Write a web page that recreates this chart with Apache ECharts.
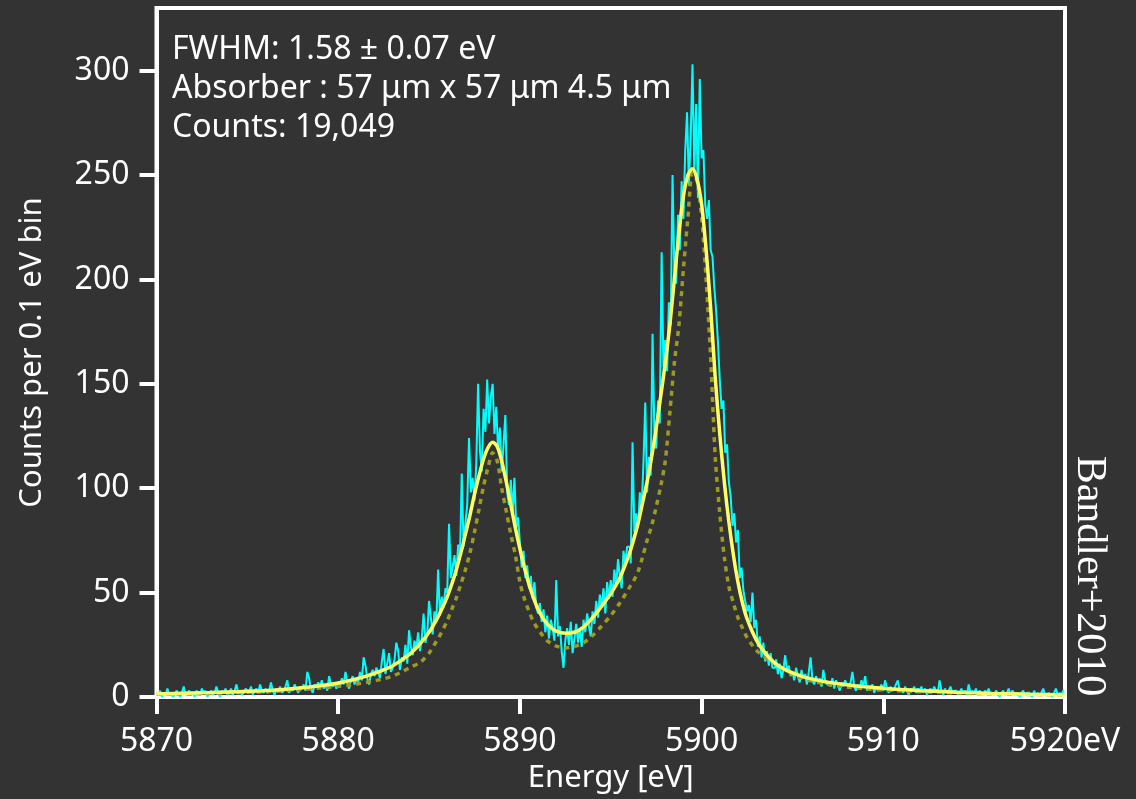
<!DOCTYPE html>
<html>
<head>
<meta charset="utf-8">
<script src="https://cdn.jsdelivr.net/npm/echarts@6/dist/echarts.min.js"></script>
<style>
  html, body { margin: 0; padding: 0; background: #333333; }
  #chart { width: 1136px; height: 799px; }
</style>
</head>
<body>
<div id="chart"></div>
<script>
// Mn K-alpha spectrum: histogram in 0.1 eV bins, starting at 5870 eV
const binStart = 5870;
const binWidth = 0.1;
const counts = [
  2, 1, 3, 0, 2, 1, 4, 1, 2, 0,          // 5870
  1, 3, 2, 0, 2, 5, 1, 2, 3, 1,          // 5871
  2, 0, 3, 2, 1, 4, 2, 3, 0, 2,          // 5872
  3, 1, 2, 5, 2, 0, 3, 2, 4, 1,          // 5873
  2, 4, 1, 3, 6, 2, 3, 1, 2, 4,          // 5874
  3, 2, 5, 1, 3, 4, 2, 6, 3, 2,          // 5875
  4, 2, 3, 7, 3, 1, 4, 3, 5, 2,          // 5876
  3, 5, 8, 2, 4, 3, 6, 4, 2, 5,          // 5877
  4, 6, 3, 12, 9, 4, 2, 6, 5, 7,         // 5878
  5, 8, 4, 6, 3, 10, 6, 5, 7, 4,         // 5879
  7, 5, 9, 6, 12, 7, 4, 8, 10, 6,        // 5880
  9, 7, 12, 8, 19, 15, 9, 6, 11, 13,     // 5881
  10, 14, 12, 9, 17, 23, 11, 16, 21, 12, // 5882
  14, 18, 26, 22, 13, 19, 17, 25, 16, 32,// 5883
  24, 20, 27, 23, 31, 22, 28, 40, 26, 30,// 5884
  46, 38, 30, 41, 36, 61, 39, 48, 43, 52,// 5885
  50, 83, 57, 62, 68, 58, 73, 66, 107, 72,       // 5886
  83, 92, 124, 98, 105, 94, 112, 150, 118, 108,  // 5887
  138, 127, 152, 131, 144, 150, 126, 139, 118, 129, // 5888
  108, 121, 135, 98, 92, 104, 88, 105, 81, 86,   // 5889
  74, 62, 70, 57, 63, 52, 58, 47, 55, 43,        // 5890
  40, 45, 36, 42, 31, 39, 28, 37, 33, 27,        // 5891
  56, 29, 34, 22, 14, 27, 33, 25, 36, 21,        // 5892
  28, 35, 26, 33, 24, 37, 31, 40, 34, 29,        // 5893
  41, 35, 46, 38, 49, 43, 52, 40, 55, 47,        // 5894
  56, 48, 61, 53, 66, 58, 52, 70, 64, 72,        // 5895
  72, 64, 122, 79, 88, 81, 98, 90, 112, 141,     // 5896
  98, 115, 106, 174, 128, 119, 142, 131, 213, 158,   // 5897
  171, 156, 189, 178, 250, 205, 198, 231, 214, 247,  // 5898
  229, 262, 280, 245, 268, 303, 251, 284, 239, 296,  // 5899
  258, 262, 236, 229, 238, 214, 211, 196, 185, 170,  // 5900
  152, 138, 142, 117, 121, 103, 96, 82, 88, 74,      // 5901
  80, 57, 62, 51, 46, 41, 44, 36, 50, 33,        // 5902
  37, 24, 29, 19, 26, 17, 22, 15, 21, 14,        // 5903
  14, 18, 11, 16, 9, 13, 20, 12, 15, 10,         // 5904
  12, 8, 14, 10, 7, 13, 9, 11, 6, 12,            // 5905
  19, 8, 6, 10, 7, 9, 5, 13, 8, 6,               // 5906
  7, 5, 9, 4, 8, 6, 3, 7, 5, 8,                  // 5907
  6, 4, 7, 12, 5, 3, 6, 4, 8, 5,                 // 5908
  10, 3, 5, 4, 6, 2, 5, 3, 4, 6,                 // 5909
  3, 8, 4, 2, 5, 3, 4, 6, 8, 3,                  // 5910
  4, 2, 5, 3, 1, 4, 3, 5, 2, 4,                  // 5911
  3, 5, 2, 4, 1, 3, 4, 2, 5, 3,                  // 5912
  2, 8, 3, 1, 4, 2, 3, 5, 2, 3,                  // 5913
  3, 1, 2, 4, 2, 3, 1, 6, 2, 3,                  // 5914
  2, 4, 1, 3, 2, 1, 3, 2, 4, 1,                  // 5915
  2, 1, 3, 2, 0, 2, 3, 1, 2, 4,                  // 5916
  1, 3, 2, 1, 2, 0, 2, 3, 1, 2,                  // 5917
  2, 1, 0, 3, 1, 2, 1, 2, 4, 1,                  // 5918
  1, 2, 1, 0, 2, 4, 1, 2, 1, 3                   // 5919
];

// Energies at which the model curves are sampled (eV)
const curveEnergy = [
  5870, 5871, 5872, 5873, 5874, 5875, 5876, 5877, 5878, 5879, 5880, 5880.5,
  5881, 5881.5, 5882, 5882.5, 5883, 5883.5, 5884, 5884.5, 5885, 5885.25,
  5885.5, 5885.75, 5886, 5886.25, 5886.5, 5886.75, 5887, 5887.25, 5887.5,
  5887.75, 5888, 5888.25, 5888.5, 5888.75, 5889, 5889.25, 5889.5, 5889.75,
  5890, 5890.25, 5890.5, 5890.75, 5891, 5891.25, 5891.5, 5891.75, 5892,
  5892.5, 5893, 5893.5, 5894, 5894.5, 5895, 5895.5, 5896, 5896.25, 5896.5,
  5896.75, 5897, 5897.25, 5897.5, 5897.75, 5898, 5898.25, 5898.5, 5898.75,
  5899, 5899.25, 5899.5, 5899.75, 5900, 5900.25, 5900.5, 5900.75, 5901,
  5901.25, 5901.5, 5901.75, 5902, 5902.25, 5902.5, 5903, 5903.5, 5904,
  5904.5, 5905, 5905.5, 5906, 5907, 5908, 5909, 5910, 5911, 5912, 5913,
  5914, 5915, 5916, 5917, 5918, 5919, 5920
];

// Best fit (solid yellow)
const fitCounts = [
  1.5, 1.7, 1.9, 2.1, 2.4, 2.7, 3.1, 3.6, 4.4, 5.4, 6.7, 7.6,
  8.7, 9.9, 11.3, 13, 15, 17.8, 21, 25.5, 31, 34.5,
  38.5, 43, 48, 54, 61, 69, 78, 87, 97,
  106, 114, 119.5, 122, 120, 113, 103, 92, 81,
  71, 62, 54, 47.5, 42, 38, 35, 33, 31.5,
  30.5, 31, 33.5, 38, 43.5, 49.5, 57, 68, 75, 83,
  93, 103, 115, 129, 144, 160, 178, 200, 222,
  240, 250, 253, 248, 236, 214, 186, 153, 126,
  103, 84, 68, 55, 45, 37.5, 27.5, 21, 16.5,
  13.5, 11.5, 10, 8.8, 7, 5.9, 4.9, 4.2, 3.6, 3.1, 2.7,
  2.3, 2.0, 1.7, 1.5, 1.3, 1.2, 1.0
];

// Intrinsic line shape (dotted olive)
const lineShapeCounts = [
  1.3, 1.4, 1.5, 1.7, 1.9, 2.2, 2.5, 3.0, 3.6, 4.3, 5.1, 5.6,
  6.2, 6.9, 7.8, 8.7, 10, 12, 14.3, 16.5, 21, 24.5,
  28, 32, 36.5, 42, 47.5, 54, 61, 69, 79,
  90, 101, 110, 117, 113, 100, 89, 78, 68,
  55, 47, 41, 36, 32.5, 29.5, 27, 25.5, 24.4,
  23.5, 24.2, 26, 29.5, 34, 39, 45, 52, 55.5, 60,
  67, 75, 82, 91, 101, 113, 136, 160, 178,
  205, 230, 251, 247, 230, 200, 162, 115, 88,
  67, 53, 45, 38, 33, 28.5, 22.5, 19, 16,
  13.4, 11, 9, 7.8, 6, 4.8, 3.9, 3.3, 2.9, 2.5, 2.2,
  1.9, 1.7, 1.5, 1.35, 1.2, 1.1, 1.0
];

const xTicks = [5870, 5880, 5890, 5900, 5910, 5920];
const yTicks = [0, 50, 100, 150, 200, 250, 300];
const notes = [
  'FWHM: 1.58 \u00b1 0.07 eV',
  'Absorber : 57 \u03bcm x 57 \u03bcm 4.5 \u03bcm',
  'Counts: 19,049'
];
const credit = 'Bandler+2010';

const sansFont = '"Noto Sans", "Open Sans", sans-serif';
const white = '#ffffff';

const histData = counts.map((c, i) => [binStart + (i + 0.5) * binWidth, c]);
const fitData = curveEnergy.map((e, i) => [e, fitCounts[i]]);
const shapeData = curveEnergy.map((e, i) => [e, lineShapeCounts[i]]);

const chart = echarts.init(document.getElementById('chart'), null, { renderer: 'canvas' });

chart.setOption({
  backgroundColor: '#333333',
  animation: false,
  grid: {
    left: 156.5, right: 71, top: 8, bottom: 102,
    show: true, borderColor: white, borderWidth: 4, backgroundColor: 'transparent'
  },
  xAxis: {
    type: 'value',
    min: 5870, max: 5920, interval: 10,
    name: 'Energy [eV]',
    nameLocation: 'middle',
    nameGap: 61,
    nameTextStyle: { color: white, fontSize: 31, fontFamily: sansFont },
    axisLine: { show: true, onZero: false, lineStyle: { color: white, width: 4 } },
    axisTick: { show: true, inside: false, length: 17, lineStyle: { color: white, width: 4 }, customValues: xTicks },
    axisLabel: {
      color: white, fontSize: 32, fontFamily: sansFont, margin: 29,
      customValues: xTicks,
      formatter: v => (v === 5920 ? v + 'eV' : String(v))
    },
    splitLine: { show: false }
  },
  yAxis: {
    type: 'value',
    min: 0, max: 330,
    name: 'Counts per 0.1 eV bin',
    nameLocation: 'middle',
    nameRotate: 90,
    nameGap: 109,
    nameTextStyle: { color: white, fontSize: 31, fontFamily: sansFont },
    axisLine: { show: true, onZero: false, lineStyle: { color: white, width: 4 } },
    axisTick: { show: true, inside: false, length: 17, lineStyle: { color: white, width: 4 }, customValues: yTicks },
    axisLabel: { color: white, fontSize: 32, fontFamily: sansFont, margin: 27, customValues: yTicks },
    splitLine: { show: false }
  },
  series: [
    {
      name: 'Data',
      type: 'line',
      step: 'middle',
      data: histData,
      symbol: 'none',
      clip: true,
      lineStyle: { color: '#00ffff', width: 2 },
      z: 2
    },
    {
      name: 'Line shape',
      type: 'line',
      data: shapeData,
      smooth: 0.3,
      symbol: 'none',
      clip: true,
      lineStyle: { color: '#9a9a24', width: 3.5, type: [5, 5] },
      z: 3
    },
    {
      name: 'Fit',
      type: 'line',
      data: fitData,
      smooth: 0.3,
      symbol: 'none',
      clip: true,
      lineStyle: { color: '#ffff66', width: 3.5 },
      z: 4
    }
  ],
  graphic: [
    ...notes.map((t, i) => ({
      type: 'text',
      x: 172,
      y: 50 + i * 38.8,
      z: 10,
      style: {
        text: t, fill: white, font: '32px ' + sansFont,
        align: 'left', verticalAlign: 'middle',
        textAlign: 'left', textVerticalAlign: 'middle'
      }
    })),
    {
      type: 'text',
      x: 1089,
      y: 576,
      rotation: -Math.PI / 2,
      z: 10,
      style: {
        text: credit, fill: white, font: '42px "Liberation Serif", "Times New Roman", serif',
        align: 'center', verticalAlign: 'middle',
        textAlign: 'center', textVerticalAlign: 'middle'
      }
    }
  ]
});
</script>
</body>
</html>
